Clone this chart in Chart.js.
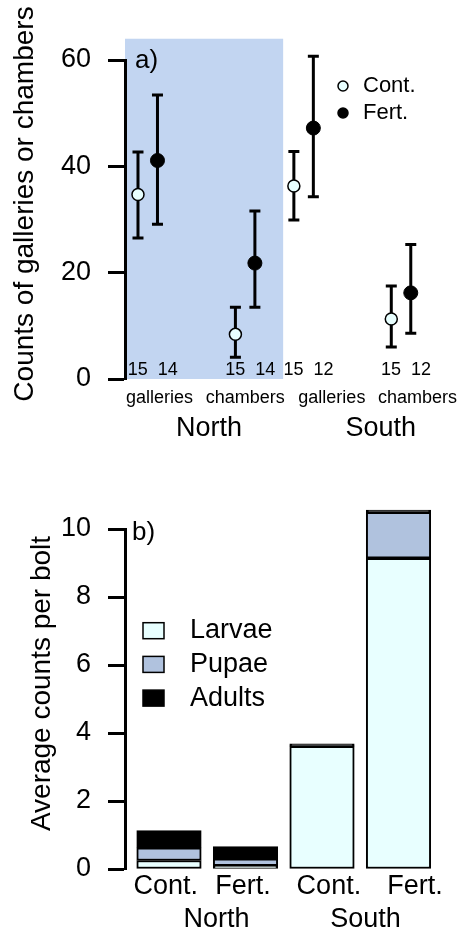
<!DOCTYPE html>
<html lang="en">
<head>
<meta charset="UTF-8">
<title>Galleries, chambers and brood counts</title>
<script src="https://cdn.jsdelivr.net/npm/chart.js"></script>
<style>
  body { margin: 0; background: #fff; }
  #wrap { position: relative; width: 461px; height: 934px; }
  canvas { position: absolute; left: 0; }
  #chartA { top: 0; }
  #chartB { top: 460px; }
</style>
</head>
<body>
<div id="wrap">
  <canvas id="chartA" width="461" height="460"></canvas>
  <canvas id="chartB" width="461" height="474"></canvas>
</div>
<script>
// ---- panel a) data ----
const regions = ["North", "South"];
const measures = ["galleries", "chambers", "galleries", "chambers"];
const contMean = [34.7, 8.4, 36.3, 11.3];
const contLow  = [26.5, 4.1, 29.9, 6.0];
const contHigh = [42.7, 13.5, 42.8, 17.5];
const fertMean = [41.1, 21.8, 47.2, 16.2];
const fertLow  = [29.1, 13.5, 34.3, 8.6];
const fertHigh = [53.4, 31.6, 60.7, 25.3];
const contN = [15, 15, 15, 15];
const fertN = [14, 14, 12, 12];
const ticksA = [0, 20, 40, 60];

// ---- panel b) data ----
const treatments = ["Cont.", "Fert.", "Cont.", "Fert."];
const larvae = [0.25, 0.10, 3.61, 9.14];
const pupae  = [0.37, 0.20, 0.01, 1.35];
const adults = [0.51, 0.36, 0.06, 0.07];
const ticksB = [0, 2, 4, 6, 8, 10];

const FONT = "'Liberation Sans', Arial, sans-serif";
const groupX = [1, 6, 9, 14];          // x position of each control point (fert = +1)
const measureLabelX = [2.1, 6.5, 10.95, 15.35];
const regionLabelXA = [4.64, 13.46];

function txt(ctx, s, x, y, size, align) {
  ctx.font = size + "px " + FONT;
  ctx.fillStyle = "#000";
  ctx.textAlign = align || "center";
  ctx.textBaseline = "middle";
  ctx.fillText(s, x, y);
}
function vtxt(ctx, s, x, y, size) {
  ctx.save();
  ctx.translate(x, y);
  ctx.rotate(-Math.PI / 2);
  txt(ctx, s, 0, 0, size);
  ctx.restore();
}

const yAxisStyle = (ticks, step) => ({
  min: ticks[0], max: ticks[ticks.length - 1],
  afterFit: s => { s.width = 125; },
  border: { display: true, color: "#000", width: 3 },
  grid: { drawOnChartArea: false, drawTicks: true, tickLength: 17, tickWidth: 3, tickColor: "#000" },
  ticks: { stepSize: step, padding: 17, color: "#000", font: { family: FONT, size: 27 } }
});

// ---------- panel a ----------
const panelA = {
  id: "panelA",
  beforeDraw(chart) {
    const { ctx, scales: { x, y } } = chart;
    ctx.save();
    ctx.fillStyle = "#C2D5F1";
    const l = x.getPixelForValue(x.min), r = x.getPixelForValue(8.45);
    const t = y.getPixelForValue(64), b = y.getPixelForValue(0);
    ctx.fillRect(l, t, r - l, b - t);
    ctx.restore();
  },
  beforeDatasetsDraw(chart) {
    const { ctx, scales: { x, y } } = chart;
    ctx.save();
    ctx.strokeStyle = "#000";
    ctx.lineWidth = 3;
    const bar = (xv, lo, hi) => {
      const px = x.getPixelForValue(xv), p1 = y.getPixelForValue(lo), p2 = y.getPixelForValue(hi);
      ctx.beginPath();
      ctx.moveTo(px, p1); ctx.lineTo(px, p2);
      ctx.moveTo(px - 5.5, p1); ctx.lineTo(px + 5.5, p1);
      ctx.moveTo(px - 5.5, p2); ctx.lineTo(px + 5.5, p2);
      ctx.stroke();
    };
    groupX.forEach((g, i) => {
      bar(g, contLow[i], contHigh[i]);
      bar(g + 1, fertLow[i], fertHigh[i]);
    });
    ctx.restore();
  },
  afterDraw(chart) {
    const { ctx, chartArea: ca, scales: { x } } = chart;
    ctx.save();
    groupX.forEach((g, i) => {
      txt(ctx, contN[i] + "  " + fertN[i], x.getPixelForValue(g + 0.5) + 5, ca.bottom - 9, 18);
      txt(ctx, measures[i], x.getPixelForValue(measureLabelX[i]), ca.bottom + 19, 18);
    });
    regions.forEach((r, i) => txt(ctx, r, x.getPixelForValue(regionLabelXA[i]), ca.bottom + 50, 27));
    txt(ctx, "a)", ca.left + 10, ca.top + 1, 26, "left");
    vtxt(ctx, "Counts of galleries or chambers", 25, 204, 28);
    // legend
    ctx.lineWidth = 1.5;
    [["Cont.", "#E8FFFF", 86], ["Fert.", "#000", 113]].forEach(([lab, fill, py]) => {
      ctx.beginPath();
      ctx.arc(343, py, 5, 0, Math.PI * 2);
      ctx.fillStyle = fill; ctx.fill();
      ctx.strokeStyle = "#000"; ctx.stroke();
      txt(ctx, lab, 363, py, 22, "left");
    });
    ctx.restore();
  }
};

new Chart(document.getElementById("chartA"), {
  type: "scatter",
  data: {
    datasets: [
      {
        label: "Cont.",
        data: groupX.map((g, i) => ({ x: g, y: contMean[i] })),
        pointRadius: 6, pointBorderWidth: 1.5,
        pointBackgroundColor: "#E8FFFF", pointBorderColor: "#000", clip: false
      },
      {
        label: "Fert.",
        data: groupX.map((g, i) => ({ x: g + 1, y: fertMean[i] })),
        pointRadius: 7, pointBorderWidth: 1,
        pointBackgroundColor: "#000", pointBorderColor: "#000", clip: false
      }
    ]
  },
  options: {
    responsive: false,
    animation: false,
    layout: { padding: { left: 0, right: 21, top: 60, bottom: 81 } },
    plugins: { legend: { display: false }, tooltip: { enabled: false } },
    scales: {
      x: { type: "linear", min: 1 / 3, max: 16.5, display: false },
      y: yAxisStyle(ticksA, 20)
    }
  },
  plugins: [panelA]
});

// ---------- panel b ----------
const barX = [1, 2, 3, 4];
const treatLabelX = [0.957, 1.967, 3.09, 4.216];
const regionLabelXB = [1.62, 3.57];
const stageColors = ["#E8FFFF", "#B0C2DE", "#000000"];
const stageNames = ["Larvae", "Pupae", "Adults"];

const panelB = {
  id: "panelB",
  afterDraw(chart) {
    const { ctx, chartArea: ca, scales: { x } } = chart;
    ctx.save();
    treatments.forEach((t, i) => txt(ctx, t, x.getPixelForValue(treatLabelX[i]), ca.bottom + 18, 27));
    regions.forEach((r, i) => txt(ctx, r, x.getPixelForValue(regionLabelXB[i]), ca.bottom + 51, 27));
    txt(ctx, "b)", ca.left + 7, ca.top + 4, 26, "left");
    vtxt(ctx, "Average counts per bolt", 42, 223.5, 28);
    stageNames.forEach((n, i) => {
      const cy = ca.top + 101.7 + i * 33.7;
      ctx.fillStyle = stageColors[i];
      ctx.fillRect(143, cy - 8, 21, 16);
      ctx.strokeStyle = "#000"; ctx.lineWidth = 1.5;
      ctx.strokeRect(143, cy - 8, 21, 16);
      txt(ctx, n, 190, cy, 27, "left");
    });
    ctx.restore();
  }
};

const stageData = [larvae, pupae, adults];
new Chart(document.getElementById("chartB"), {
  type: "bar",
  data: {
    datasets: stageNames.map((n, s) => ({
      label: n,
      data: stageData[s].map((v, i) => ({ x: barX[i], y: v })),
      backgroundColor: stageColors[s],
      borderColor: "#000",
      borderWidth: 2,
      borderSkipped: false,
      barThickness: 64.5,
      stack: "all",
      clip: false
    }))
  },
  options: {
    responsive: false,
    animation: false,
    layout: { padding: { left: 0, right: 16.6, top: 69, bottom: 65 } },
    plugins: { legend: { display: false }, tooltip: { enabled: false } },
    scales: {
      x: { type: "linear", min: 0.425, max: 4.6, display: false, stacked: true, offset: false },
      y: Object.assign(yAxisStyle(ticksB, 2), { stacked: true })
    }
  },
  plugins: [panelB]
});
</script>
</body>
</html>
